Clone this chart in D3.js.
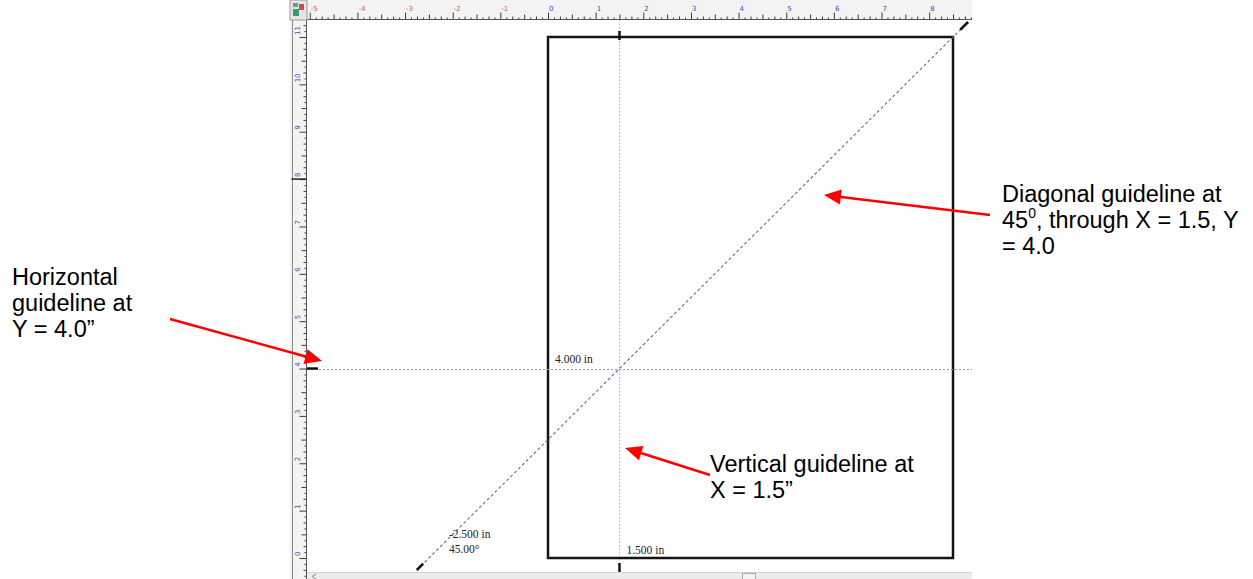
<!DOCTYPE html>
<html>
<head>
<meta charset="utf-8">
<script src="https://cdn.jsdelivr.net/npm/d3@7"></script>
<style>
  html, body { margin: 0; padding: 0; background: #fff; }
  svg { display: block; }
  .ruler-label { font-family: "DejaVu Sans", sans-serif; font-size: 7px; }
  .guide-label { font-family: "Liberation Serif", "Times New Roman", serif; font-size: 11.5px; fill: #222; }
  .callout { font-family: "Liberation Sans", Arial, sans-serif; font-size: 23.5px; fill: #000; }
</style>
</head>
<body>
<script>
// Page size (inches)
const pageSize = [8.5, 11];

// Guidelines (inches, degrees)
const guidesH = [4.0];
const guidesV = [1.5];
const guidesDiag = [{ x: 1.5, y: 4.0, angle: 45 }];

// Ruler labels
const rulerXLabels = [-5, -4, -3, -2, -1, 0, 1, 2, 3, 4, 5, 6, 7, 8];
const rulerYLabels = [0, 1, 2, 3, 4, 5, 6, 7, 8, 9, 10, 11];

// Callout texts ("^" marks a superscript character)
const calloutDiag = ["Diagonal guideline at", "45^0, through X = 1.5, Y", "= 4.0"];
const calloutH = ["Horizontal", "guideline at", "Y = 4.0\u201d"];
const calloutV = ["Vertical guideline at", "X = 1.5\u201d"];

// Layout
const W = 1253, H = 579;
const win = { left: 290, right: 972, top: 0, bottom: 579 };
const rulerH = 20, rulerW = 17, scrollH = 7;
const canvas = {
  left: win.left + rulerW,
  right: win.right,
  top: win.top + rulerH,
  bottom: win.bottom - scrollH,
};

// callout placement (pixels): first text baseline, arrow tail, arrow tip
const calloutLayout = [
  { lines: calloutDiag, text: [1002, 202], tail: [990, 215], tip: [824, 195] },
  { lines: calloutH, text: [12, 285], tail: [170, 319], tip: [322, 361] },
  { lines: calloutV, text: [710, 472], tail: [710, 475], tip: [625, 448] },
];
const lineStep = 26;

// Scales: inches -> pixels
const x = d3.scaleLinear().domain([0, pageSize[0]]).range([548, 953]);
const y = d3.scaleLinear().domain([0, pageSize[1]]).range([558, 37]);

const fmt3 = (v) => d3.format(".3f")(v).replace("\u2212", "-");
const fmt2 = (v) => d3.format(".2f")(v).replace("\u2212", "-");

const svg = d3
  .select("body")
  .append("svg")
  .attr("width", W)
  .attr("height", H);

svg.append("rect").attr("width", W).attr("height", H).attr("fill", "#fff");

// clip for the drawing area
svg
  .append("clipPath")
  .attr("id", "clip")
  .append("rect")
  .attr("x", canvas.left)
  .attr("y", canvas.top)
  .attr("width", canvas.right - canvas.left)
  .attr("height", canvas.bottom - canvas.top);

const area = svg.append("g").attr("clip-path", "url(#clip)");

area
  .append("rect")
  .attr("x", canvas.left)
  .attr("y", canvas.top)
  .attr("width", canvas.right - canvas.left)
  .attr("height", canvas.bottom - canvas.top)
  .attr("fill", "#fff");

// Page
area
  .append("rect")
  .attr("x", x(0))
  .attr("y", y(pageSize[1]))
  .attr("width", x(pageSize[0]) - x(0))
  .attr("height", y(0) - y(pageSize[1]))
  .attr("fill", "none")
  .attr("stroke", "#141414")
  .attr("stroke-width", 2.5);

// Horizontal guides
area
  .selectAll(".guide-h")
  .data(guidesH)
  .join("line")
  .attr("class", "guide-h")
  .attr("x1", canvas.left)
  .attr("x2", canvas.right)
  .attr("y1", (d) => Math.round(y(d)) + 0.5)
  .attr("y2", (d) => Math.round(y(d)) + 0.5)
  .attr("stroke", "#9494dc")
  .attr("stroke-dasharray", "2,2");

// Vertical guides
area
  .selectAll(".guide-v")
  .data(guidesV)
  .join("line")
  .attr("class", "guide-v")
  .attr("x1", (d) => Math.round(x(d)) + 0.5)
  .attr("x2", (d) => Math.round(x(d)) + 0.5)
  .attr("y1", canvas.top)
  .attr("y2", canvas.bottom)
  .attr("stroke", "#b0b0e4")
  .attr("stroke-dasharray", "1.5,2");

// Diagonal guides: end points where they meet the canvas top / bottom
const diagEnds = (d) => {
  const t = Math.tan((d.angle * Math.PI) / 180);
  const yTop = y.invert(canvas.top + 2);
  const yBot = y.invert(canvas.bottom - 2);
  return [
    [x(d.x + (yBot - d.y) / t), y(yBot)],
    [x(d.x + (yTop - d.y) / t), y(yTop)],
  ];
};

area
  .selectAll(".guide-d")
  .data(guidesDiag)
  .join("line")
  .attr("class", "guide-d")
  .attr("x1", (d) => diagEnds(d)[0][0])
  .attr("y1", (d) => diagEnds(d)[0][1])
  .attr("x2", (d) => diagEnds(d)[1][0])
  .attr("y2", (d) => diagEnds(d)[1][1])
  .attr("stroke", "#6464ac")
  .attr("stroke-width", 1.1)
  .attr("stroke-dasharray", "3,2.5");

// black handles at the ends of each guide
const handles = area.append("g").attr("stroke", "#111").attr("stroke-width", 2.5);

guidesV.forEach((v) => {
  handles.append("line").attr("x1", x(v)).attr("x2", x(v)).attr("y1", 31).attr("y2", 40);
  handles.append("line").attr("x1", x(v)).attr("x2", x(v)).attr("y1", canvas.bottom - 9).attr("y2", canvas.bottom);
});
guidesH.forEach((v) => {
  handles.append("line").attr("x1", canvas.left).attr("x2", canvas.left + 11).attr("y1", y(v)).attr("y2", y(v));
});
guidesDiag.forEach((d) => {
  const [a, b] = diagEnds(d);
  const len = Math.hypot(b[0] - a[0], b[1] - a[1]);
  const ux = (b[0] - a[0]) / len, uy = (b[1] - a[1]) / len;
  handles.append("line").attr("x1", a[0]).attr("y1", a[1]).attr("x2", a[0] + ux * 9).attr("y2", a[1] + uy * 9);
  handles.append("line").attr("x1", b[0]).attr("y1", b[1]).attr("x2", b[0] - ux * 11).attr("y2", b[1] - uy * 11);
});

// Guide labels
guidesH.forEach((v) => {
  area.append("text").attr("class", "guide-label")
    .attr("x", x(0) + 7).attr("y", y(v) - 6)
    .text(`${fmt3(v)} in`);
});
guidesV.forEach((v) => {
  area.append("text").attr("class", "guide-label")
    .attr("x", x(v) + 7).attr("y", y(0) - 4)
    .text(`${fmt3(v)} in`);
});
guidesDiag.forEach((d) => {
  const t = Math.tan((d.angle * Math.PI) / 180);
  const x0 = d.x - d.y / t; // crossing at y = 0
  area.append("text").attr("class", "guide-label")
    .attr("x", x(x0) + 20).attr("y", y(0) - 20)
    .text(`${fmt3(x0)} in`);
  area.append("text").attr("class", "guide-label")
    .attr("x", x(x0) + 20).attr("y", y(0) - 5)
    .text(`${fmt2(d.angle)}\u00b0`);
});

// Rulers
const tickLevels = [
  { step: 1, size: 7 },
  { step: 0.5, size: 5 },
  { step: 0.25, size: 3 },
  { step: 0.125, size: 2 },
];
const levelValues = (lo, hi, i) =>
  d3.range(Math.ceil(lo * 8), Math.floor(hi * 8) + 1)
    .map((k) => k / 8)
    .filter((v) => v % tickLevels[i].step === 0 && (i === 0 || v % tickLevels[i - 1].step !== 0));

// top ruler
svg.append("rect")
  .attr("x", win.left).attr("y", 0)
  .attr("width", win.right - win.left).attr("height", rulerH)
  .attr("fill", "#f3f3f1");

const topRuler = svg.append("g").attr("transform", `translate(0, ${rulerH - 0.5})`);
tickLevels.forEach((lv, i) => {
  topRuler.append("g")
    .call(d3.axisTop(x)
      .tickValues(levelValues(x.invert(canvas.left), x.invert(canvas.right - 1), i))
      .tickSize(lv.size)
      .tickFormat(""))
    .call((g) => g.select(".domain").remove())
    .call((g) => g.selectAll("line").attr("stroke", "#3a3a3a"));
});
topRuler.append("line")
  .attr("x1", canvas.left).attr("x2", win.right)
  .attr("stroke", "#555");

svg.append("g")
  .selectAll("text")
  .data(rulerXLabels)
  .join("text")
  .attr("class", "ruler-label")
  .attr("x", (d) => x(d) + 1)
  .attr("y", 11)
  .attr("fill", (d) => (d < 0 ? "#d85a5a" : "#4a4ac8"))
  .text((d) => String(d));

// left ruler
svg.append("rect")
  .attr("x", win.left).attr("y", rulerH)
  .attr("width", rulerW).attr("height", win.bottom - rulerH)
  .attr("fill", "#f3f3f1");
svg.append("line")
  .attr("x1", win.left + 2.5).attr("x2", win.left + 2.5)
  .attr("y1", rulerH).attr("y2", win.bottom)
  .attr("stroke", "#8a8a8a");

const leftRuler = svg.append("g").attr("transform", `translate(${canvas.left - 0.5}, 0)`);
tickLevels.forEach((lv, i) => {
  leftRuler.append("g")
    .call(d3.axisLeft(y)
      .tickValues(levelValues(y.invert(win.bottom), y.invert(canvas.top + 1), i))
      .tickSize(lv.size)
      .tickFormat(""))
    .call((g) => g.select(".domain").remove())
    .call((g) => g.selectAll("line").attr("stroke", "#3a3a3a"));
});
leftRuler.append("line")
  .attr("y1", canvas.top).attr("y2", win.bottom)
  .attr("stroke", "#555");
// pointer mark on the left ruler
leftRuler.append("line")
  .attr("x1", -rulerW + 2).attr("x2", 0)
  .attr("y1", y(8)).attr("y2", y(8))
  .attr("stroke", "#222").attr("stroke-width", 1.5);

svg.append("g")
  .selectAll("text")
  .data(rulerYLabels)
  .join("text")
  .attr("class", "ruler-label")
  .attr("transform", (d) => `translate(${win.left + 10}, ${y(d) - 2}) rotate(-90)`)
  .attr("fill", "#4a4ac8")
  .text((d) => String(d));

// corner box
const corner = svg.append("g");
corner.append("rect")
  .attr("x", win.left).attr("y", 0)
  .attr("width", rulerW).attr("height", rulerH)
  .attr("fill", "#e4e4e4").attr("stroke", "#9a9a9a");
corner.append("rect").attr("x", win.left + 3).attr("y", 9).attr("width", 6).attr("height", 7).attr("fill", "#3c9a6a");
corner.append("rect").attr("x", win.left + 9).attr("y", 4).attr("width", 5).attr("height", 6).attr("fill", "#d24a4a");
corner.append("rect").attr("x", win.left + 3).attr("y", 3).attr("width", 5).attr("height", 4).attr("fill", "#5aa0a0");

// bottom scroll bar
svg.append("rect")
  .attr("x", canvas.left).attr("y", canvas.bottom)
  .attr("width", canvas.right - canvas.left).attr("height", scrollH)
  .attr("fill", "#ececec");
svg.append("line")
  .attr("x1", canvas.left).attr("x2", canvas.right)
  .attr("y1", canvas.bottom + 0.5).attr("y2", canvas.bottom + 0.5)
  .attr("stroke", "#d6d6d6");
svg.append("path")
  .attr("d", `M${canvas.left + 9},${canvas.bottom + 2} L${canvas.left + 5},${canvas.bottom + 4.5} L${canvas.left + 9},${canvas.bottom + 7}`)
  .attr("fill", "none").attr("stroke", "#888");
svg.append("rect")
  .attr("x", 742.5).attr("y", canvas.bottom + 1.5)
  .attr("width", 13).attr("height", 6)
  .attr("fill", "#f4f4f4").attr("stroke", "#aaa");

// Callouts
const callouts = svg.append("g");
calloutLayout.forEach((c) => {
  const t = callouts.append("text").attr("class", "callout");
  c.lines.forEach((line, i) => {
    const parts = line.split(/\^(\d)/);
    parts.forEach((p, j) => {
      const ts = t.append("tspan");
      if (j === 0) ts.attr("x", c.text[0]).attr("y", c.text[1] + i * lineStep);
      if (j % 2 === 1) {
        ts.attr("font-size", 14).attr("dy", -10).text(p);
      } else {
        if (j > 0) ts.attr("dy", 10);
        ts.text(p);
      }
    });
  });

  // arrow
  const [tx, ty] = c.tail, [px, py] = c.tip;
  const len = Math.hypot(px - tx, py - ty);
  const ux = (px - tx) / len, uy = (py - ty) / len;
  const headL = 17, headW = 7.5;
  const bx = px - ux * headL, by = py - uy * headL;
  callouts.append("line")
    .attr("x1", tx).attr("y1", ty)
    .attr("x2", bx + ux * 2).attr("y2", by + uy * 2)
    .attr("stroke", "#ff0000").attr("stroke-width", 2.5);
  callouts.append("path")
    .attr("d", `M${px},${py} L${bx - uy * headW},${by + ux * headW} L${bx + uy * headW},${by - ux * headW} Z`)
    .attr("fill", "#ff0000");
});
</script>
</body>
</html>
